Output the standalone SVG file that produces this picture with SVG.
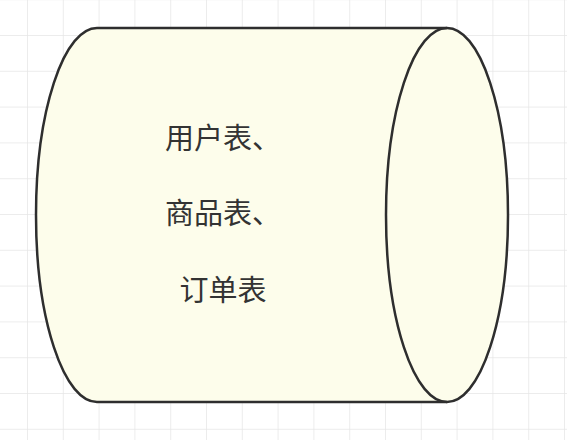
<svg xmlns="http://www.w3.org/2000/svg" width="567" height="440" viewBox="0 0 567 440">
<defs>
<pattern id="grid" x="27" y="35" width="35.8" height="35.8" patternUnits="userSpaceOnUse">
<path d="M0 0H35.8M0 0V35.8" fill="none" stroke="#e6e6e6" stroke-width="1.5"/>
</pattern>
<style>
.shape{fill:#fdfdeb;stroke:#2e2e2e;stroke-width:2.5}
.lbl{font-family:"Noto Sans CJK SC","Noto Sans",sans-serif;font-size:29px;fill:#333;text-anchor:middle}
</style>
</defs>
<rect width="567" height="440" fill="#ffffff"/>
<rect width="567" height="440" fill="url(#grid)"/>
<g id="cylinder">
<path class="shape" d="M97 28H447A61 187 0 0 1 447 402H97A61 187 0 0 1 97 28Z"/>
<path class="shape" fill="none" d="M447 28A61 187 0 0 0 447 402" style="fill:none"/>
<text class="lbl" x="223" y="149">用户表、</text>
<text class="lbl" x="223" y="224">商品表、</text>
<text class="lbl" x="223" y="301">订单表</text>
</g>
<g id="connectors"></g>
</svg>
